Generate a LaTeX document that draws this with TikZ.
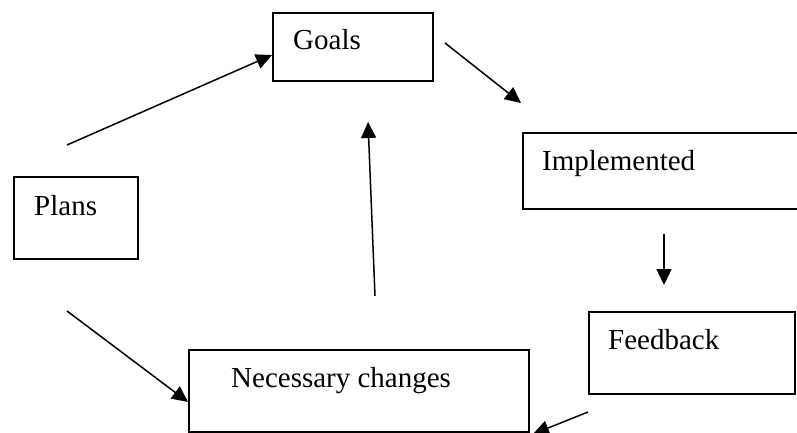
\documentclass[tikz,border=0pt]{standalone}
\usepackage{fontspec}
\setmainfont{Liberation Serif}
\usetikzlibrary{arrows.meta}
\begin{document}
\begin{tikzpicture}[x=1pt,y=-1pt,
  box/.style={draw=black,line width=1.8pt,rectangle,inner sep=0pt,anchor=north west},
  lbl/.style={anchor=base west,inner sep=0pt,font=\fontsize{29}{34}\selectfont},
  conn/.style={line width=1.5pt,-{Triangle[length=16pt,width=15pt]}}]
\useasboundingbox (0,0) rectangle (797,433);
% boxes
\node[box,minimum width=160pt,minimum height=68pt] (goals) at (272,12) {};
\node[box,minimum width=290pt,minimum height=76pt] (impl) at (522,132) {};
\node[box,minimum width=124pt,minimum height=82pt] (plans) at (13,176) {};
\node[box,minimum width=206pt,minimum height=82pt] (feed) at (588,311) {};
\node[box,minimum width=340pt,minimum height=82pt] (nec) at (188,349) {};
% texts
\node[lbl] (goalsT) at (293,50) {Goals};
\node[lbl] (implT) at (542,170) {Implemented};
\node[lbl] (plansT) at (34,215) {Plans};
\node[lbl] (feedT) at (608,349) {Feedback};
\node[lbl] (necT) at (231,387) {Necessary changes};
% connector end points
\coordinate (p1s) at (67,145);
\coordinate (p1e) at (272,55);
\coordinate (p2s) at (445,43);
\coordinate (p2e) at (521,103);
\coordinate (p3s) at (664,234);
\coordinate (p3e) at (664,285);
\coordinate (p4s) at (588,412);
\coordinate (p4e) at (533,434);
\coordinate (p5s) at (375,296);
\coordinate (p5e) at (368,122);
\coordinate (p6s) at (67,311);
\coordinate (p6e) at (188,402);
% connectors
\draw[conn] (p1s) -- (p1e);
\draw[conn] (p2s) -- (p2e);
\draw[conn] (p3s) -- (p3e);
\draw[conn] (p4s) -- (p4e);
\draw[conn] (p5s) -- (p5e);
\draw[conn] (p6s) -- (p6e);
\end{tikzpicture}
\end{document}
